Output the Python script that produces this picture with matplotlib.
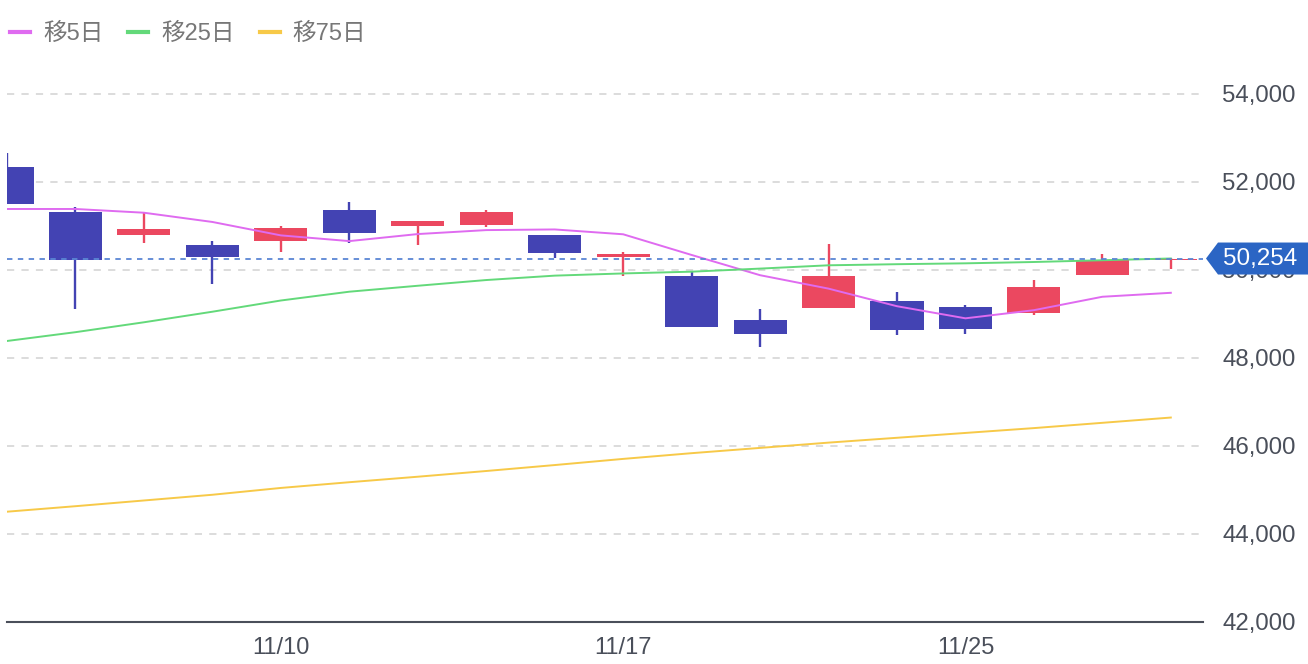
import numpy as np
import matplotlib.pyplot as plt
from matplotlib.lines import Line2D
from matplotlib.patches import Polygon
from matplotlib.transforms import IdentityTransform
from matplotlib.ticker import FuncFormatter

plt.rcParams['font.family'] = ['Liberation Sans', 'Noto Sans CJK JP', 'DejaVu Sans']

# 2022/11/04 - 11/30 の日足
dates = ['11/4', '11/7', '11/8', '11/9', '11/10', '11/11', '11/14', '11/15', '11/16',
         '11/17', '11/18', '11/21', '11/22', '11/24', '11/25', '11/28', '11/29', '11/30']
opens = [52330, 51320, 50795, 50560, 50650, 51350, 50995, 51025, 50795,
         50290, 49850, 48855, 49135, 49290, 49150, 49010, 49875, 50215]
highs = [52660, 51430, 51280, 50660, 50985, 51530, 51105, 51355, 50795,
         50410, 49975, 49100, 50590, 49485, 49200, 49765, 50350, 50270]
lows = [51500, 49100, 50615, 49670, 50410, 50600, 50560, 50975, 50275,
        49865, 48690, 48250, 49135, 48510, 48530, 48970, 49875, 50010]
closes = [51500, 50220, 50925, 50280, 50950, 50840, 51105, 51320, 50385,
          50355, 48705, 48540, 49865, 48625, 48660, 49600, 50220, 50254]
ma5 = [51380, 51380, 51295, 51085, 50780, 50650, 50810, 50900, 50915,
       50805, 50335, 49875, 49570, 49170, 48895, 49080, 49385, 49475]
ma25 = [48380, 48580, 48805, 49045, 49300, 49500, 49635, 49765, 49865,
        49915, 49955, 50025, 50100, 50125, 50145, 50175, 50215, 50255]
ma75 = [44500, 44625, 44755, 44885, 45040, 45170, 45295, 45425, 45560,
        45700, 45830, 45950, 46070, 46180, 46290, 46400, 46520, 46640]
last_price = 50254
tick_days = ['11/10', '11/17', '11/25']

up_color = '#EB4860'
down_color = '#4343B3'

fig = plt.figure(figsize=(13.08, 6.64), dpi=100)
ax = fig.add_axes([7 / 1308, 42.3 / 664, 1196 / 1308, 572 / 664])

x = np.arange(len(dates))
o = np.array(opens)
c = np.array(closes)
colors = [up_color if cc >= oo else down_color for oo, cc in zip(o, c)]

for yv in [44000, 46000, 48000, 50000, 52000, 54000]:
    ax.axhline(yv, color='#D9D9D9', lw=1.3, ls=(0, (4, 4)), zorder=0)

ax.vlines(x, lows, highs, colors=colors, lw=1.7, zorder=2)
ax.bar(x, np.abs(c - o), bottom=np.minimum(o, c), width=0.775, color=colors, zorder=2)

ax.plot(x, ma5, color='#DF6BF0', lw=1.4, zorder=3)
ax.plot(x, ma25, color='#63D97A', lw=1.4, zorder=3)
ax.plot(x, ma75, color='#F7C948', lw=1.4, zorder=3)

ax.axhline(last_price, color='#5B86D4', lw=1.3, ls=(0, (3, 3)), zorder=4)

ax.set_xlim(0, 17.47)
ax.set_ylim(42000, 55000)
for s in ['top', 'left', 'right']:
    ax.spines[s].set_visible(False)
ax.spines['bottom'].set_color('#4A4F5A')
ax.spines['bottom'].set_linewidth(1.5)

ax.set_xticks([dates.index(d) for d in tick_days])
ax.set_xticklabels(tick_days)
ax.set_yticks([42000, 44000, 46000, 48000, 50000, 52000, 54000])
ax.yaxis.set_major_formatter(FuncFormatter(lambda v, p: f'{int(v):,}'))
ax.yaxis.tick_right()
ax.tick_params(axis='y', length=0, pad=14, labelsize=17.3, labelcolor='#4A4F5A')
ax.tick_params(axis='x', length=0, pad=11, labelsize=17, labelcolor='#4A4F5A')

# 現在値タグ
fig.canvas.draw()
py = ax.transData.transform((0, last_price))[1]
tag = Polygon([(1206, py), (1218, py + 16), (1310, py + 16), (1310, py - 16), (1218, py - 16)],
              closed=True, transform=IdentityTransform(), facecolor='#2B65C4',
              edgecolor='none', zorder=10, clip_on=False)
fig.add_artist(tag)
fig.text(1260 / 1308, py / 664, f'{last_price:,}', color='white', fontsize=17.5,
         ha='center', va='center', zorder=11)

handles = [Line2D([], [], color='#DF6BF0', lw=3),
           Line2D([], [], color='#63D97A', lw=3),
           Line2D([], [], color='#F7C948', lw=3)]
fig.legend(handles, ['移5日', '移25日', '移75日'], loc='upper left',
           bbox_to_anchor=(10 / 1308, 1 - 23 / 664), ncol=3, frameon=False, fontsize=17,
           labelcolor='#777777', handlelength=0.85, handletextpad=0.55,
           columnspacing=1.05, borderaxespad=0, borderpad=0)

fig.savefig('out.png', dpi=100)
